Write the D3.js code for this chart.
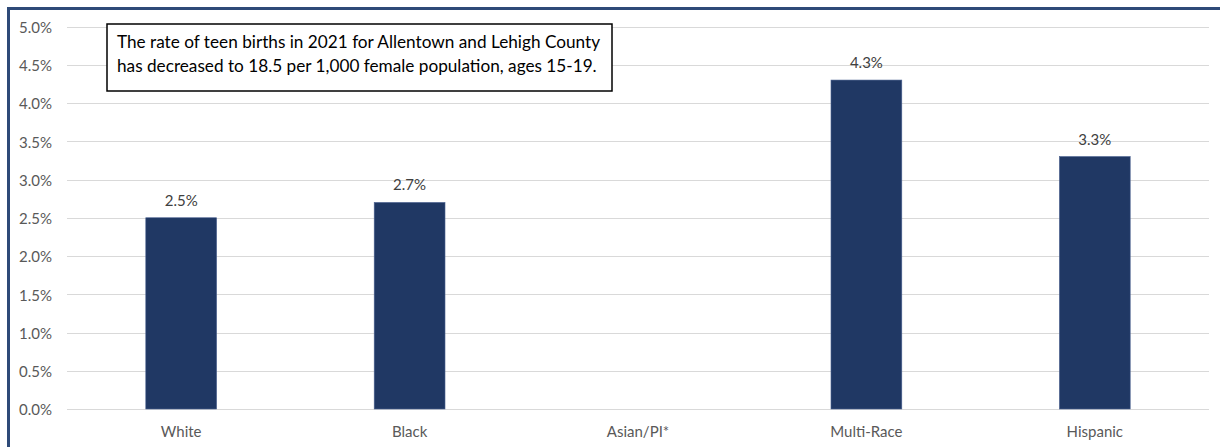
<!DOCTYPE html>
<html><head><meta charset="utf-8">
<script src="https://cdn.jsdelivr.net/npm/d3@7"></script>
<style>body{margin:0;background:#fff}svg{display:block}</style>
</head><body>
<script>
const categories = ["White", "Black", "Asian/PI*", "Multi-Race", "Hispanic"];
const values = [2.5, 2.7, null, 4.3, 3.3];
const yTicks = [0, 0.5, 1.0, 1.5, 2.0, 2.5, 3.0, 3.5, 4.0, 4.5, 5.0];
const noteLines = ["The rate of teen births in 2021 for Allentown and Lehigh County",
                   "has decreased to 18.5 per 1,000 female population, ages 15-19."];

const W = 1220, H = 447;
const font = "Lato, 'Open Sans', sans-serif";
const svg = d3.select("body").append("svg").attr("width", W).attr("height", H);

// outer border
svg.append("rect").attr("x", 8.5).attr("y", 8.5).attr("width", W + 20).attr("height", H + 20)
  .attr("fill", "none").attr("stroke", "#2E4A78").attr("stroke-width", 3);

const x = d3.scaleBand().domain(categories).range([67, 1209]).paddingInner(0.69).paddingOuter(0.345);
const y = d3.scaleLinear().domain([0, 5]).range([409, 26.5]);

// gridlines
svg.append("g").selectAll("line").data(yTicks).join("line")
  .attr("x1", 67).attr("x2", 1209)
  .attr("y1", d => Math.round(y(d)) + 0.5).attr("y2", d => Math.round(y(d)) + 0.5)
  .attr("stroke", "#D9D9D9").attr("stroke-width", 1);

// y axis labels
const yAxis = d3.axisLeft(y).tickValues(yTicks).tickFormat(d => d.toFixed(1) + "%").tickSize(0).tickPadding(0);
const gy = svg.append("g").attr("transform", "translate(52,1)").call(yAxis);
gy.select(".domain").remove();
gy.selectAll("text").attr("font-family", font).attr("font-size", 15).attr("fill", "#595959");

// x axis labels
const xAxis = d3.axisBottom(x).tickSize(0).tickPadding(0);
const gx = svg.append("g").attr("transform", "translate(0,426)").call(xAxis);
gx.select(".domain").remove();
gx.selectAll("text").attr("font-family", font).attr("font-size", 15).attr("fill", "#595959");

// bars
const data = categories.map((c, i) => ({c, v: values[i]})).filter(d => d.v != null);
svg.append("g").selectAll("rect").data(data).join("rect")
  .attr("x", d => x(d.c)).attr("width", x.bandwidth())
  .attr("y", d => y(d.v)).attr("height", d => y(0) - y(d.v))
  .attr("fill", "#203864").attr("stroke", "#4A6190").attr("stroke-width", 0.6);

// value labels
svg.append("g").selectAll("text").data(data).join("text")
  .attr("x", d => x(d.c) + x.bandwidth() / 2).attr("y", d => y(d.v) - 12)
  .attr("text-anchor", "middle").attr("font-family", font).attr("font-size", 15).attr("fill", "#404040")
  .text(d => d.v.toFixed(1) + "%");

// annotation box
svg.append("rect").attr("x", 107).attr("y", 24).attr("width", 505).attr("height", 67)
  .attr("fill", "#fff").attr("stroke", "#000").attr("stroke-width", 1.5);
svg.append("g").selectAll("text").data(noteLines).join("text")
  .attr("x", 117).attr("y", (d, i) => 48 + i * 24)
  .attr("font-family", font).attr("font-size", 17.2).attr("fill", "#000").text(d => d);
</script>
</body></html>
